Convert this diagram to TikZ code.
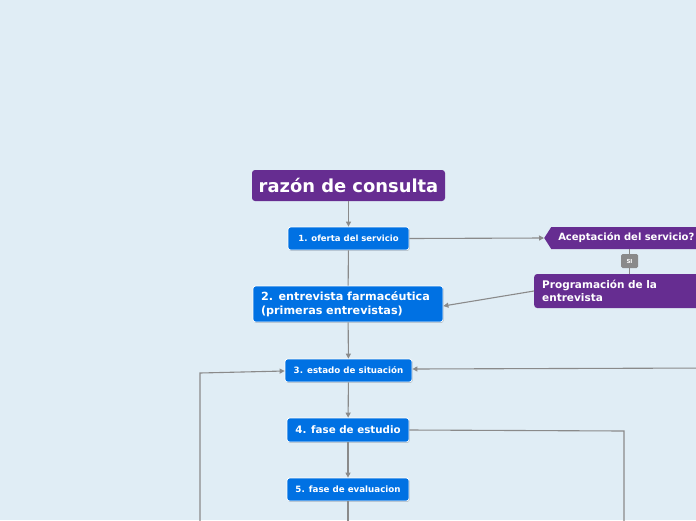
\documentclass[tikz,border=0pt]{standalone}
\usepackage{fontspec}
\setmainfont{DejaVu Sans}
\usetikzlibrary{arrows.meta,shapes.symbols,shadows}
\definecolor{bg}{HTML}{E0EDF5}
\definecolor{purp}{HTML}{662D91}
\definecolor{blu}{HTML}{0071E3}
\definecolor{lin}{HTML}{8A8A8A}
\tikzset{
  purbox/.style={fill=purp, text=white, font=\bfseries, rounded corners=3pt, inner sep=0pt},
  blubox/.style={fill=blu, draw=white, line width=0.8pt, text=white, font=\bfseries, rounded corners=2.5pt, inner sep=0pt,
     drop shadow={shadow xshift=0.6pt, shadow yshift=-0.8pt, opacity=0.25, fill=black}},
  conn/.style={draw=lin, line width=1.1pt},
  arr/.style={conn, -{Triangle[length=5pt,width=5pt]}},
  silabel/.style={fill=lin, text=white, font=\bfseries\fontsize{5.5}{6}\selectfont, rounded corners=1.5pt, minimum width=17pt, minimum height=14pt, inner sep=0pt}
}
\begin{document}
\begin{tikzpicture}[x=1pt,y=-1pt]
\fill[bg] (0,0) rectangle (696,520);
\useasboundingbox (0,0) rectangle (696,520);
\clip (0,0) rectangle (696,520);

\node[purbox, minimum width=193pt, minimum height=31pt, font=\bfseries\fontsize{17.9}{20}\selectfont] (razon) at (348.5,185.5) {razón de consulta};

\node[blubox, minimum width=121pt, minimum height=23pt, font=\bfseries\fontsize{8.5}{10}\selectfont] (oferta) at (348.5,238.5) {1. oferta del servicio};

\node[signal, signal to=west, signal from=nowhere, signal pointer angle=115, fill=purp, text=white, anchor=west,
      font=\bfseries\fontsize{10}{12}\selectfont, minimum height=22pt, text width=200pt, align=left, inner xsep=7pt, inner ysep=0pt] (acept) at (544,238) {Aceptación del servicio?};

\node[silabel] (si) at (629.5,261) {SI};

\node[purbox, anchor=west, minimum height=34pt, text width=180pt, align=left, inner xsep=8pt,
      font=\bfseries\fontsize{10.5}{13}\selectfont] (prog) at (534,291) {Programación de la\\entrevista};

\node[blubox, minimum height=36pt, text width=174pt, align=left, inner xsep=8pt,
      font=\bfseries\fontsize{11.2}{13.5}\selectfont] (entrev) at (348,304) {2. entrevista farmacéutica\\(primeras entrevistas)};

\node[blubox, minimum width=127pt, minimum height=23pt, font=\bfseries\fontsize{8.7}{10}\selectfont] (estado) at (348.5,370.5) {3. estado de situación};

\node[blubox, minimum width=122pt, minimum height=24pt, font=\bfseries\fontsize{10.3}{12}\selectfont] (estudio) at (348,430) {4. fase de estudio};

\node[blubox, minimum width=122pt, minimum height=23pt, font=\bfseries\fontsize{8.7}{10}\selectfont] (evalua) at (348,489.5) {5. fase de evaluacion};

\coordinate (leftend) at (200,530);
\coordinate (rightend) at (710,368);
\coordinate (studyend) at (624,530);
\coordinate (evalend) at (348,530);

\draw[arr] (razon) -- (oferta);
\draw[arr] (oferta.east) -- (acept.west);
\draw[conn] (oferta) -- (entrev);
\draw[conn] (acept.south -| si) -- (si);
\draw[conn] (si) -- (prog.north -| si);
\draw[arr] (prog.west) -- ([yshift=-2pt]entrev.east);
\draw[arr] (entrev) -- (estado);
\draw[arr] (rightend) -- ([yshift=1.5pt]estado.east);
\draw[arr] (leftend) -- (200,373) -- ([yshift=-0.5pt]estado.west);
\draw[arr] (estado) -- (estudio);
\draw[conn] (estudio.east) -- (624,431) -- (studyend);
\draw[arr] (estudio) -- (evalua);
\draw[conn] (evalua) -- (evalend);
\end{tikzpicture}
\end{document}
